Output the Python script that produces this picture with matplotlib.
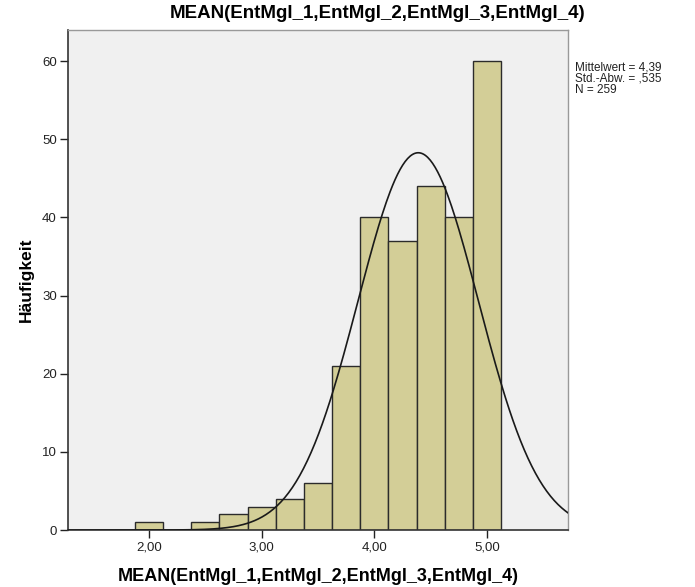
import numpy as np
import matplotlib
matplotlib.use('Agg')
import matplotlib.pyplot as plt

# bin centres and counts
bin_centers = [2.00, 2.25, 2.50, 2.75, 3.00, 3.25, 3.50, 3.75, 4.00, 4.25, 4.50, 4.75, 5.00]
counts = [1, 0, 1, 2, 3, 4, 6, 21, 40, 37, 44, 40, 60]
bin_width = 0.25
mean_val = 4.39
sd_val = 0.535
n_val = 259
x_ticks = [2.0, 3.0, 4.0, 5.0]
x_tick_labels = ["2,00", "3,00", "4,00", "5,00"]
y_ticks = [0, 10, 20, 30, 40, 50, 60]
var_name = "MEAN(EntMgl_1,EntMgl_2,EntMgl_3,EntMgl_4)"

plt.rcParams['font.family'] = ['Liberation Sans', 'DejaVu Sans']

fig = plt.figure(figsize=(6.95, 5.87), dpi=100)
ax = fig.add_axes([0.0978, 0.097, 0.7195, 0.852])
ax.set_facecolor('#f0f0f0')

ax.bar(bin_centers, counts, width=bin_width, color='#d3ce97',
       edgecolor='#2b2b2b', linewidth=1.0, zorder=2)

# normal curve scaled to the counts
xs = np.linspace(1.28, 5.72, 400)
ys = n_val * bin_width / (sd_val * np.sqrt(2 * np.pi)) * np.exp(-0.5 * ((xs - mean_val) / sd_val) ** 2)
ax.plot(xs, ys, color='#1a1a1a', linewidth=1.2, zorder=3)

ax.set_xlim(1.28, 5.72)
ax.set_ylim(0, 64)
ax.set_xticks(x_ticks)
ax.set_xticklabels(x_tick_labels)
ax.set_yticks(y_ticks)
ax.tick_params(direction='out', length=6, width=1, colors='#222222', labelsize=9.5, pad=2)
for side in ['left', 'bottom']:
    ax.spines[side].set_color('#333333')
    ax.spines[side].set_linewidth(1.2)
for side in ['top', 'right']:
    ax.spines[side].set_color('#999999')
    ax.spines[side].set_linewidth(1.0)

ax.set_xlabel(var_name, fontsize=13, fontweight='bold', labelpad=11)
ax.set_ylabel("Häufigkeit", fontsize=12.5, fontweight='bold', labelpad=6)
fig.text(378 / 695, 1 - 13 / 587, var_name, fontsize=13.5, fontweight='bold',
         ha='center', va='center')

stats = "Mittelwert = 4,39\nStd.-Abw. = ,535\nN = 259"
fig.text(575 / 695, 1 - 61 / 587, stats, fontsize=8.5, ha='left', va='top',
         linespacing=0.95, color='#222222')

fig.savefig('out.png', dpi=100)
